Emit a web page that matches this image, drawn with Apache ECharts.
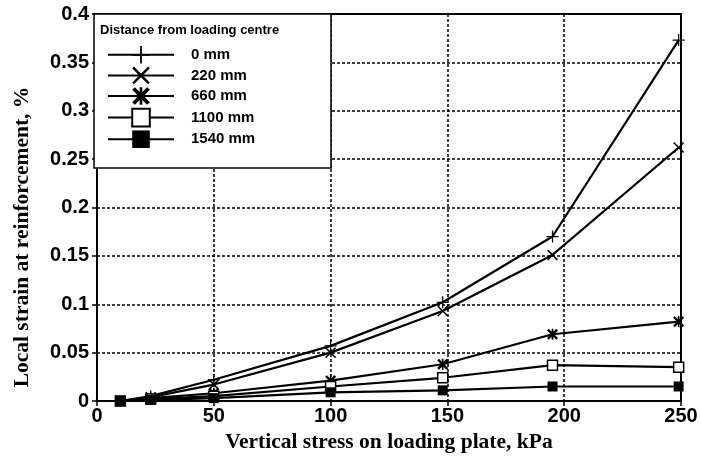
<!DOCTYPE html>
<html>
<head>
<meta charset="utf-8">
<script src="https://cdn.jsdelivr.net/npm/echarts@6/dist/echarts.min.js"></script>
<style>
  html, body { margin: 0; padding: 0; background: #fff; }
  #chart { width: 701px; height: 458px; }
</style>
</head>
<body>
<div id="chart"></div>
<script>
// vertical stress on the plate, kPa
var stress = [10, 23, 50, 100, 148, 195, 249];
// local strain, % (one list per gauge distance)
var strain0 = [0, 0.005, 0.022, 0.057, 0.102, 0.170, 0.373];
var strain220 = [0, 0.004, 0.017, 0.050, 0.093, 0.151, 0.262];
var strain660 = [0, 0.003, 0.008, 0.021, 0.038, 0.069, 0.082];
var strain1100 = [0, 0.002, 0.005, 0.015, 0.024, 0.037, 0.035];
var strain1540 = [0, 0.001, 0.003, 0.009, 0.011, 0.015, 0.015];
var seriesNames = ['0 mm', '220 mm', '660 mm', '1100 mm', '1540 mm'];

var chart = echarts.init(document.getElementById('chart'));

// marker shapes: plus, cross, star
var plusPath = 'path://M9,0H11V9H20V11H11V20H9V11H0V9H9Z';
var crossPath = 'path://M0,2L2,0L10,8L18,0L20,2L12,10L20,18L18,20L10,12L2,20L0,18L8,10Z';
var starPath = 'path://M0,3L3,0L10,7L17,0L20,3L13,10L20,17L17,20L10,13L3,20L0,17L7,10Z M8.5,0H11.5V20H8.5Z';

function pairs(ys) {
  return stress.map(function (x, i) { return [x, ys[i]]; });
}

function makeSeries(name, ys, symbol, size, itemStyle) {
  return {
    name: name,
    type: 'line',
    data: pairs(ys),
    symbol: symbol,
    symbolSize: size,
    showAllSymbol: true,
    z: 3,
    lineStyle: { color: '#000', width: 2.2 },
    itemStyle: itemStyle || { color: '#000' },
    emphasis: { disabled: true },
    animation: false
  };
}

var gridLine = { show: true, lineStyle: { color: '#000', type: [3, 2], width: 1.5 } };
var tickFont = { color: '#000', fontFamily: 'Liberation Sans', fontWeight: 'bold', fontSize: 20 };

var option = {
  backgroundColor: '#fff',
  animation: false,
  grid: {
    left: 97, right: 20, top: 14, bottom: 56,
    show: true, borderColor: '#000', borderWidth: 2
  },
  xAxis: {
    type: 'value', min: 0, max: 250, interval: 50,
    name: 'Vertical stress on loading plate, kPa',
    nameLocation: 'middle', nameGap: 30,
    nameTextStyle: { color: '#000', fontFamily: 'Liberation Serif', fontWeight: 'bold', fontSize: 21.5 },
    axisLine: { lineStyle: { color: '#000', width: 2 } },
    axisTick: { length: 5, lineStyle: { color: '#000', width: 1.5 } },
    axisLabel: Object.assign({ margin: 5 }, tickFont),
    splitLine: gridLine
  },
  yAxis: {
    type: 'value', min: 0, max: 0.4, interval: 0.05,
    axisLine: { show: true, lineStyle: { color: '#000', width: 2 } },
    axisTick: { show: true, length: 5, lineStyle: { color: '#000', width: 1.5 } },
    axisLabel: Object.assign({ margin: 8 }, tickFont),
    splitLine: gridLine
  },
  legend: {
    data: seriesNames,
    orient: 'vertical',
    left: 102, top: 41,
    itemWidth: 66, itemHeight: 22, itemGap: 3,
    selectedMode: false,
    z: 10,
    textStyle: { color: '#000', fontFamily: 'Liberation Sans', fontWeight: 'bold', fontSize: 15, padding: [0, 0, 0, 12] }
  },
  graphic: [
    {
      type: 'rect', z: 8,
      shape: { x: 94, y: 14, width: 237, height: 154 },
      style: { fill: '#fff', stroke: '#000', lineWidth: 1.5 }
    },
    {
      type: 'text', z: 10, left: 100, top: 24,
      style: { text: 'Distance from loading centre', fill: '#000', font: 'bold 13px "Liberation Sans"' }
    },
    {
      // y axis title, placed by hand to sit where the original one does
      type: 'text', z: 10, x: 22, y: 237, rotation: Math.PI / 2,
      style: {
        text: 'Local strain at reinforcement, %', fill: '#000',
        font: 'bold 21.5px "Liberation Serif"', textAlign: 'center', textVerticalAlign: 'middle'
      }
    }
  ],
  series: [
    makeSeries(seriesNames[0], strain0, plusPath, 12),
    makeSeries(seriesNames[1], strain220, crossPath, 11),
    makeSeries(seriesNames[2], strain660, starPath, 11),
    makeSeries(seriesNames[3], strain1100, 'rect', 10, { color: '#fff', borderColor: '#000', borderWidth: 1.5 }),
    makeSeries(seriesNames[4], strain1540, 'rect', 10, { color: '#000' })
  ]
};

chart.setOption(option);
</script>
</body>
</html>
